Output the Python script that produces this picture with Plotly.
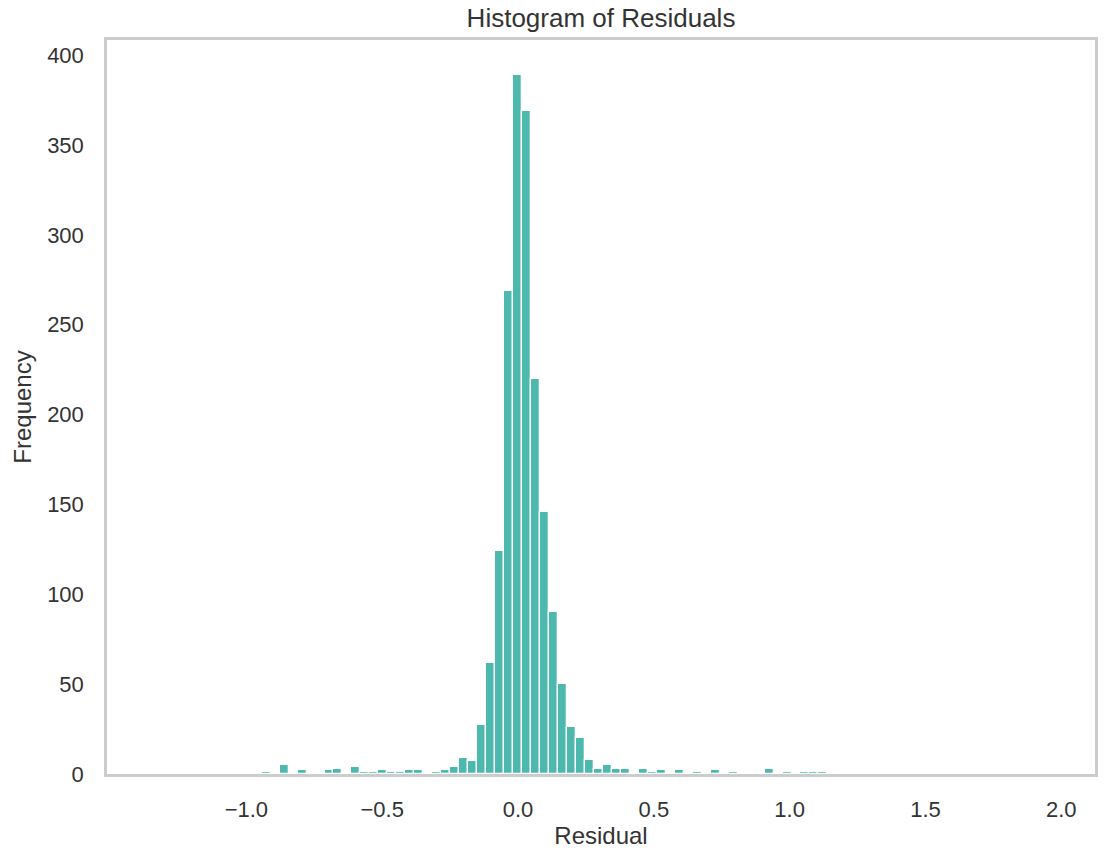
import plotly.graph_objects as go

# Histogram of model residuals: 100 equal-width bins
bin_start = -1.3405
bin_width = 0.03306
counts = [
    0, 0, 0, 0, 0, 0, 0, 0, 0, 0,
    0, 0, 1, 0, 5, 0, 2, 0, 0, 2,
    3, 0, 4, 1, 1, 2, 1, 1, 2, 2,
    0, 1, 2, 4, 9, 7, 27, 62, 124, 269,
    389, 369, 220, 146, 90, 50, 26, 20, 8, 3,
    5, 3, 3, 0, 3, 1, 2, 0, 2, 0,
    1, 0, 2, 0, 1, 0, 0, 0, 3, 0,
    1, 0, 1, 1, 1, 0, 0, 0, 0, 0,
    0, 0, 0, 0, 0, 0, 0, 0, 0, 0,
    0, 0, 0, 0, 0, 0, 0, 0, 0, 0,
]
x_ticks = [-1.0, -0.5, 0.0, 0.5, 1.0, 1.5, 2.0]
y_ticks = [0, 50, 100, 150, 200, 250, 300, 350, 400]

bin_centers = [bin_start + (i + 0.5) * bin_width for i in range(len(counts))]

text_color = "#333333"
spine_color = "#cccccc"
font_family = "Liberation Sans, Arial, sans-serif"

fig = go.Figure(
    go.Bar(
        x=bin_centers,
        y=counts,
        width=bin_width,
        marker=dict(color="#4db8ae", line=dict(color="white", width=1.3)),
    )
)

axis_common = dict(
    showgrid=False,
    zeroline=False,
    showline=True,
    linecolor=spine_color,
    linewidth=2.5,
    mirror=True,
    ticks="",
    tickfont=dict(size=22, color=text_color, family=font_family),
)

fig.update_layout(
    width=1109,
    height=856,
    margin=dict(l=107, r=11, t=40, b=78),
    plot_bgcolor="white",
    paper_bgcolor="white",
    font=dict(family=font_family, color=text_color),
    showlegend=False,
    bargap=0,
    title=dict(
        text="Histogram of Residuals",
        font=dict(size=26, color=text_color, family=font_family),
        x=0.5,
        xref="paper",
        xanchor="center",
        y=1 - 18 / 856,
        yref="container",
        yanchor="middle",
    ),
    xaxis=dict(
        range=[-1.513, 2.124],
        tickvals=x_ticks,
        tickformat=".1f",
        ticklabelstandoff=14,
        title=dict(text="Residual", font=dict(size=24, color=text_color), standoff=6),
        **axis_common,
    ),
    yaxis=dict(
        range=[0, 408.45],
        tickvals=y_ticks,
        ticklabelstandoff=16,
        title=dict(text="Frequency", font=dict(size=24, color=text_color), standoff=9),
        **axis_common,
    ),
)

fig.write_html("out.html")
